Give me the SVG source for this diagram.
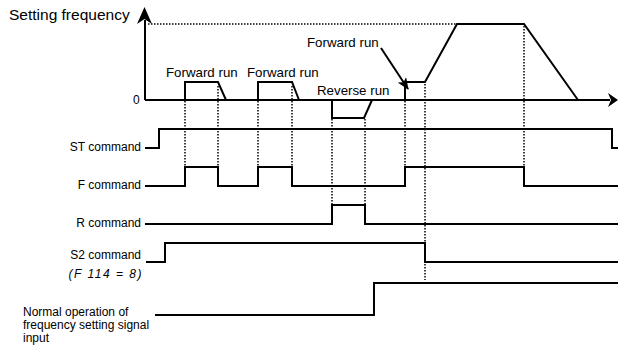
<svg xmlns="http://www.w3.org/2000/svg" width="618" height="346" viewBox="0 0 618 346">
<style>
text{font-family:"Liberation Sans",Arial,sans-serif;fill:#000}
.lbl{font-size:12px;text-anchor:end}
.run{font-size:13.3px}
.sig{fill:none;stroke:#000;stroke-width:2;stroke-linejoin:miter}
.dot{fill:none;stroke:#000;stroke-width:1.5;stroke-dasharray:1.5 1.5}
.ah{fill:#000;stroke:none}
</style>
<defs>
<marker id="callout" viewBox="0 0 12 10" refX="11" refY="5" markerWidth="12" markerHeight="10" markerUnits="userSpaceOnUse" orient="auto">
<path d="M0,0 L12,5 L0,10 L3,5 Z" class="ah"/>
</marker>
</defs>
<rect width="618" height="346" fill="#fff"/>
<g id="axes">
<path class="sig" d="M145,100 V20"/>
<path class="ah" d="M144.5,7 L152,24 L144.5,19 L137,24 Z"/>
<path class="sig" d="M145,100 H610"/>
<path class="ah" d="M618,100 L608,107 L611,100 L608,93 Z"/>
<text x="9" y="20" style="font-size:15.5px">Setting frequency</text>
<text x="133" y="103.5" style="font-size:12px">0</text>
</g>
<g id="frequency">
<path class="sig" d="M185,100 V82 H218 L226,100"/>
<path class="sig" d="M258,100 V82 H292 L299,100"/>
<path class="sig" d="M332,100 V118 H364 L372,100"/>
<path class="sig" d="M405,100 V82 H425 L457,24 H524 L578,100"/>
<text class="run" x="166" y="77">Forward run</text>
<text class="run" x="247" y="77">Forward run</text>
<text class="run" x="317" y="95">Reverse run</text>
<text class="run" x="307" y="47">Forward run</text>
</g>
<g id="st-command">
<path class="sig" d="M145,148 H159 V129 H612 V148 H618"/>
<text class="lbl" x="141" y="151">ST command</text>
</g>
<g id="f-command">
<path class="sig" d="M145,186 H185 V167 H218 V186 H258 V167 H292 V186 H405 V167 H524 V186 H618"/>
<text class="lbl" x="141" y="189">F command</text>
</g>
<g id="r-command">
<path class="sig" d="M145,224 H332 V205 H365 V224 H618"/>
<text class="lbl" x="141" y="227">R command</text>
</g>
<g id="s2-command">
<path class="sig" d="M146,262 H165 V243 H425 V262 H618"/>
<text class="lbl" x="141" y="259">S2 command</text>
<text class="lbl" x="143" y="278" style="font-style:italic;letter-spacing:1.5px">(F 114 = 8)</text>
</g>
<g id="normal-operation">
<path class="sig" d="M155,315 H374 V283 H618"/>
<text x="23" y="316" style="font-size:12px">Normal operation of</text>
<text x="23" y="329" style="font-size:12px">frequency setting signal</text>
<text x="23" y="342" style="font-size:12px">input</text>
</g>
<g id="connectors">
<path class="dot" d="M148,24 H457"/>
<path class="dot" d="M185,101 V166"/>
<path class="dot" d="M218,86 V166"/>
<path class="dot" d="M258,101 V166"/>
<path class="dot" d="M292,86 V166"/>
<path class="dot" d="M332,119 V204"/>
<path class="dot" d="M365,119 V204"/>
<path class="dot" d="M405,101 V166"/>
<path class="dot" d="M425,84 V280"/>
<path class="dot" d="M524,26 V166"/>
<path d="M381,48 L408,89" fill="none" stroke="#000" stroke-width="2" marker-end="url(#callout)"/>
</g>
</svg>
